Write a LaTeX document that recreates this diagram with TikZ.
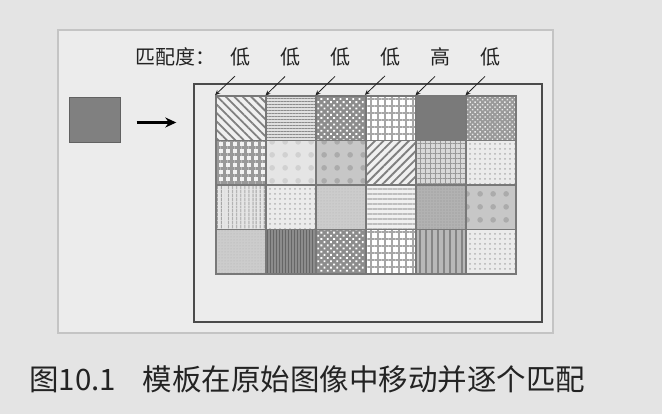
\documentclass[tikz,border=0pt]{standalone}
\usepackage{fontspec}
\usepackage{tikz}
\usepackage{xcolor}
\usetikzlibrary{positioning, arrows.meta, patterns.meta}
\newfontfamily\cjkfont{Noto Sans CJK SC}
\definecolor{tmbg}{RGB}{228, 228, 228}
\definecolor{tmpanel}{RGB}{236, 236, 236}
\definecolor{tmpanelline}{RGB}{196, 196, 196}
\definecolor{tmframe}{RGB}{75, 75, 75}
\definecolor{tmcell}{RGB}{120, 120, 120}
\definecolor{tmtext}{RGB}{35, 35, 35}
\tikzset{
    panelnode/.style={draw=tmpanelline, fill=tmpanel, line width=1.5pt, minimum width=495pt, minimum height=303pt, inner sep=0pt},
    framenode/.style={draw=tmframe, line width=1.4pt, minimum width=348pt, minimum height=238pt, inner sep=0pt},
    tmplnode/.style={draw=black!62, fill=black!50, line width=1pt, minimum width=51pt, minimum height=45pt, inner sep=0pt},
    cellnode/.style={draw=tmcell, line width=1.2pt, minimum width=50pt, minimum height=44.5pt, inner sep=0pt},
    labelnode/.style={font=\cjkfont\fontsize{20}{24}\selectfont, text=tmtext, inner sep=0pt},
    captionnode/.style={font=\cjkfont\fontsize{29.5}{34}\selectfont, text=tmtext, inner sep=0pt},
    matcharrow/.style={-{Stealth[length=5pt, width=4.5pt]}, draw=tmtext, line width=0.8pt},
    movearrow/.style={-{Stealth[length=11pt, width=10pt]}, draw=black, line width=2.2pt},
    % textures of the picture cells
    pcell/.style n args={3}{preaction={fill=#1}, pattern={#2}, pattern color=#3},
    diagdown/.style={pcell={black!6}{Lines[angle=-45, distance=6pt, line width=1.8pt]}{black!50}},
    diagup/.style={pcell={black!6}{Lines[angle=45, distance=6pt, line width=1.8pt]}{black!50}},
    hlines/.style={pcell={black!12}{Lines[angle=0, distance=3pt, line width=1pt]}{black!45}},
    vlines/.style={pcell={black!10}{Lines[angle=90, distance=4pt, line width=1.3pt]}{black!40}},
    wavelines/.style={pcell={black!6}{Lines[angle=0, distance=5pt, line width=1.3pt]}{black!25}},
    darkvlines/.style={pcell={black!45}{Lines[angle=90, distance=3pt, line width=0.8pt]}{black!60}},
    stripes/.style={pcell={black!28}{Lines[angle=90, distance=6pt, line width=2.4pt]}{black!48}},
    bigcheck/.style={pcell={black!45}{Dots[angle=45, distance=4.5pt, radius=1.3pt]}{white}},
    finecheck/.style={pcell={black!40}{Dots[angle=45, distance=3.5pt, radius=1pt]}{black!8}},
    plaidlight/.style={pcell={white}{Hatch[distance=7pt, line width=2.2pt]}{black!35}},
    plaid/.style={pcell={black!15}{Hatch[distance=5pt, line width=1pt]}{black!40}},
    dotgrid/.style={pcell={black!5}{Hatch[distance=7pt, line width=3pt]}{black!40}},
    palesquares/.style={pcell={black!10}{Dots[distance=13pt, radius=3pt]}{black!18}},
    greysquares/.style={pcell={black!22}{Dots[distance=13pt, radius=3pt]}{black!33}},
    lightdots/.style={pcell={black!8}{Dots[distance=5pt, radius=1pt]}{black!30}},
    palefine/.style={pcell={black!20}{Dots[distance=3pt, radius=0.5pt]}{black!30}},
    greyfine/.style={pcell={black!30}{Dots[distance=3pt, radius=0.6pt]}{black!42}},
    solidcell/.style={fill=black!52}
}

\begin{document}
\begin{tikzpicture}[x=1pt, y=-1pt]
    \fill[tmbg] (0,0) rectangle (662,414);
    \node[panelnode] (panel) at (305.5,181.5) {};
    \node[framenode] (img) at (368,203) {};
    \node[tmplnode] (tmpl) at (94.5,120.5) {};
    \draw[movearrow] ([xshift=16pt, yshift=-2pt]tmpl.east) -- ([xshift=-17pt, yshift=-2pt]tmpl.east -| img.west);

    \foreach \st [count=\i from 0] in {diagdown, hlines, bigcheck, plaidlight, solidcell, finecheck,
            dotgrid, palesquares, greysquares, diagup, plaid, lightdots,
            vlines, lightdots, palefine, wavelines, greyfine, greysquares,
            palefine, darkvlines, bigcheck, plaidlight, stripes, lightdots} {
        \pgfmathtruncatemacro\r{floor(\i/6)+1}
        \pgfmathtruncatemacro\c{mod(\i,6)+1}
        \node[cellnode, \st] (c\r\c) at (191+50*\c, 73.75+44.5*\r) {};
    }

    \foreach \lab [count=\c] in {低, 低, 低, 低, 高, 低} {
        \node[labelnode, above=29pt of c1\c, xshift=-1pt] (l\c) {\lab};
        \draw[matcharrow] ([xshift=-5pt, yshift=-10pt]l\c.south) -- (c1\c.north west);
    }
    \node[labelnode, left=14pt of l1] (ttl) {匹配度：};

    \node[captionnode, anchor=west] (cap) at (29,379) {图10.1\hspace{0.9em}模板在原始图像中移动并逐个匹配};
\end{tikzpicture}
\end{document}
